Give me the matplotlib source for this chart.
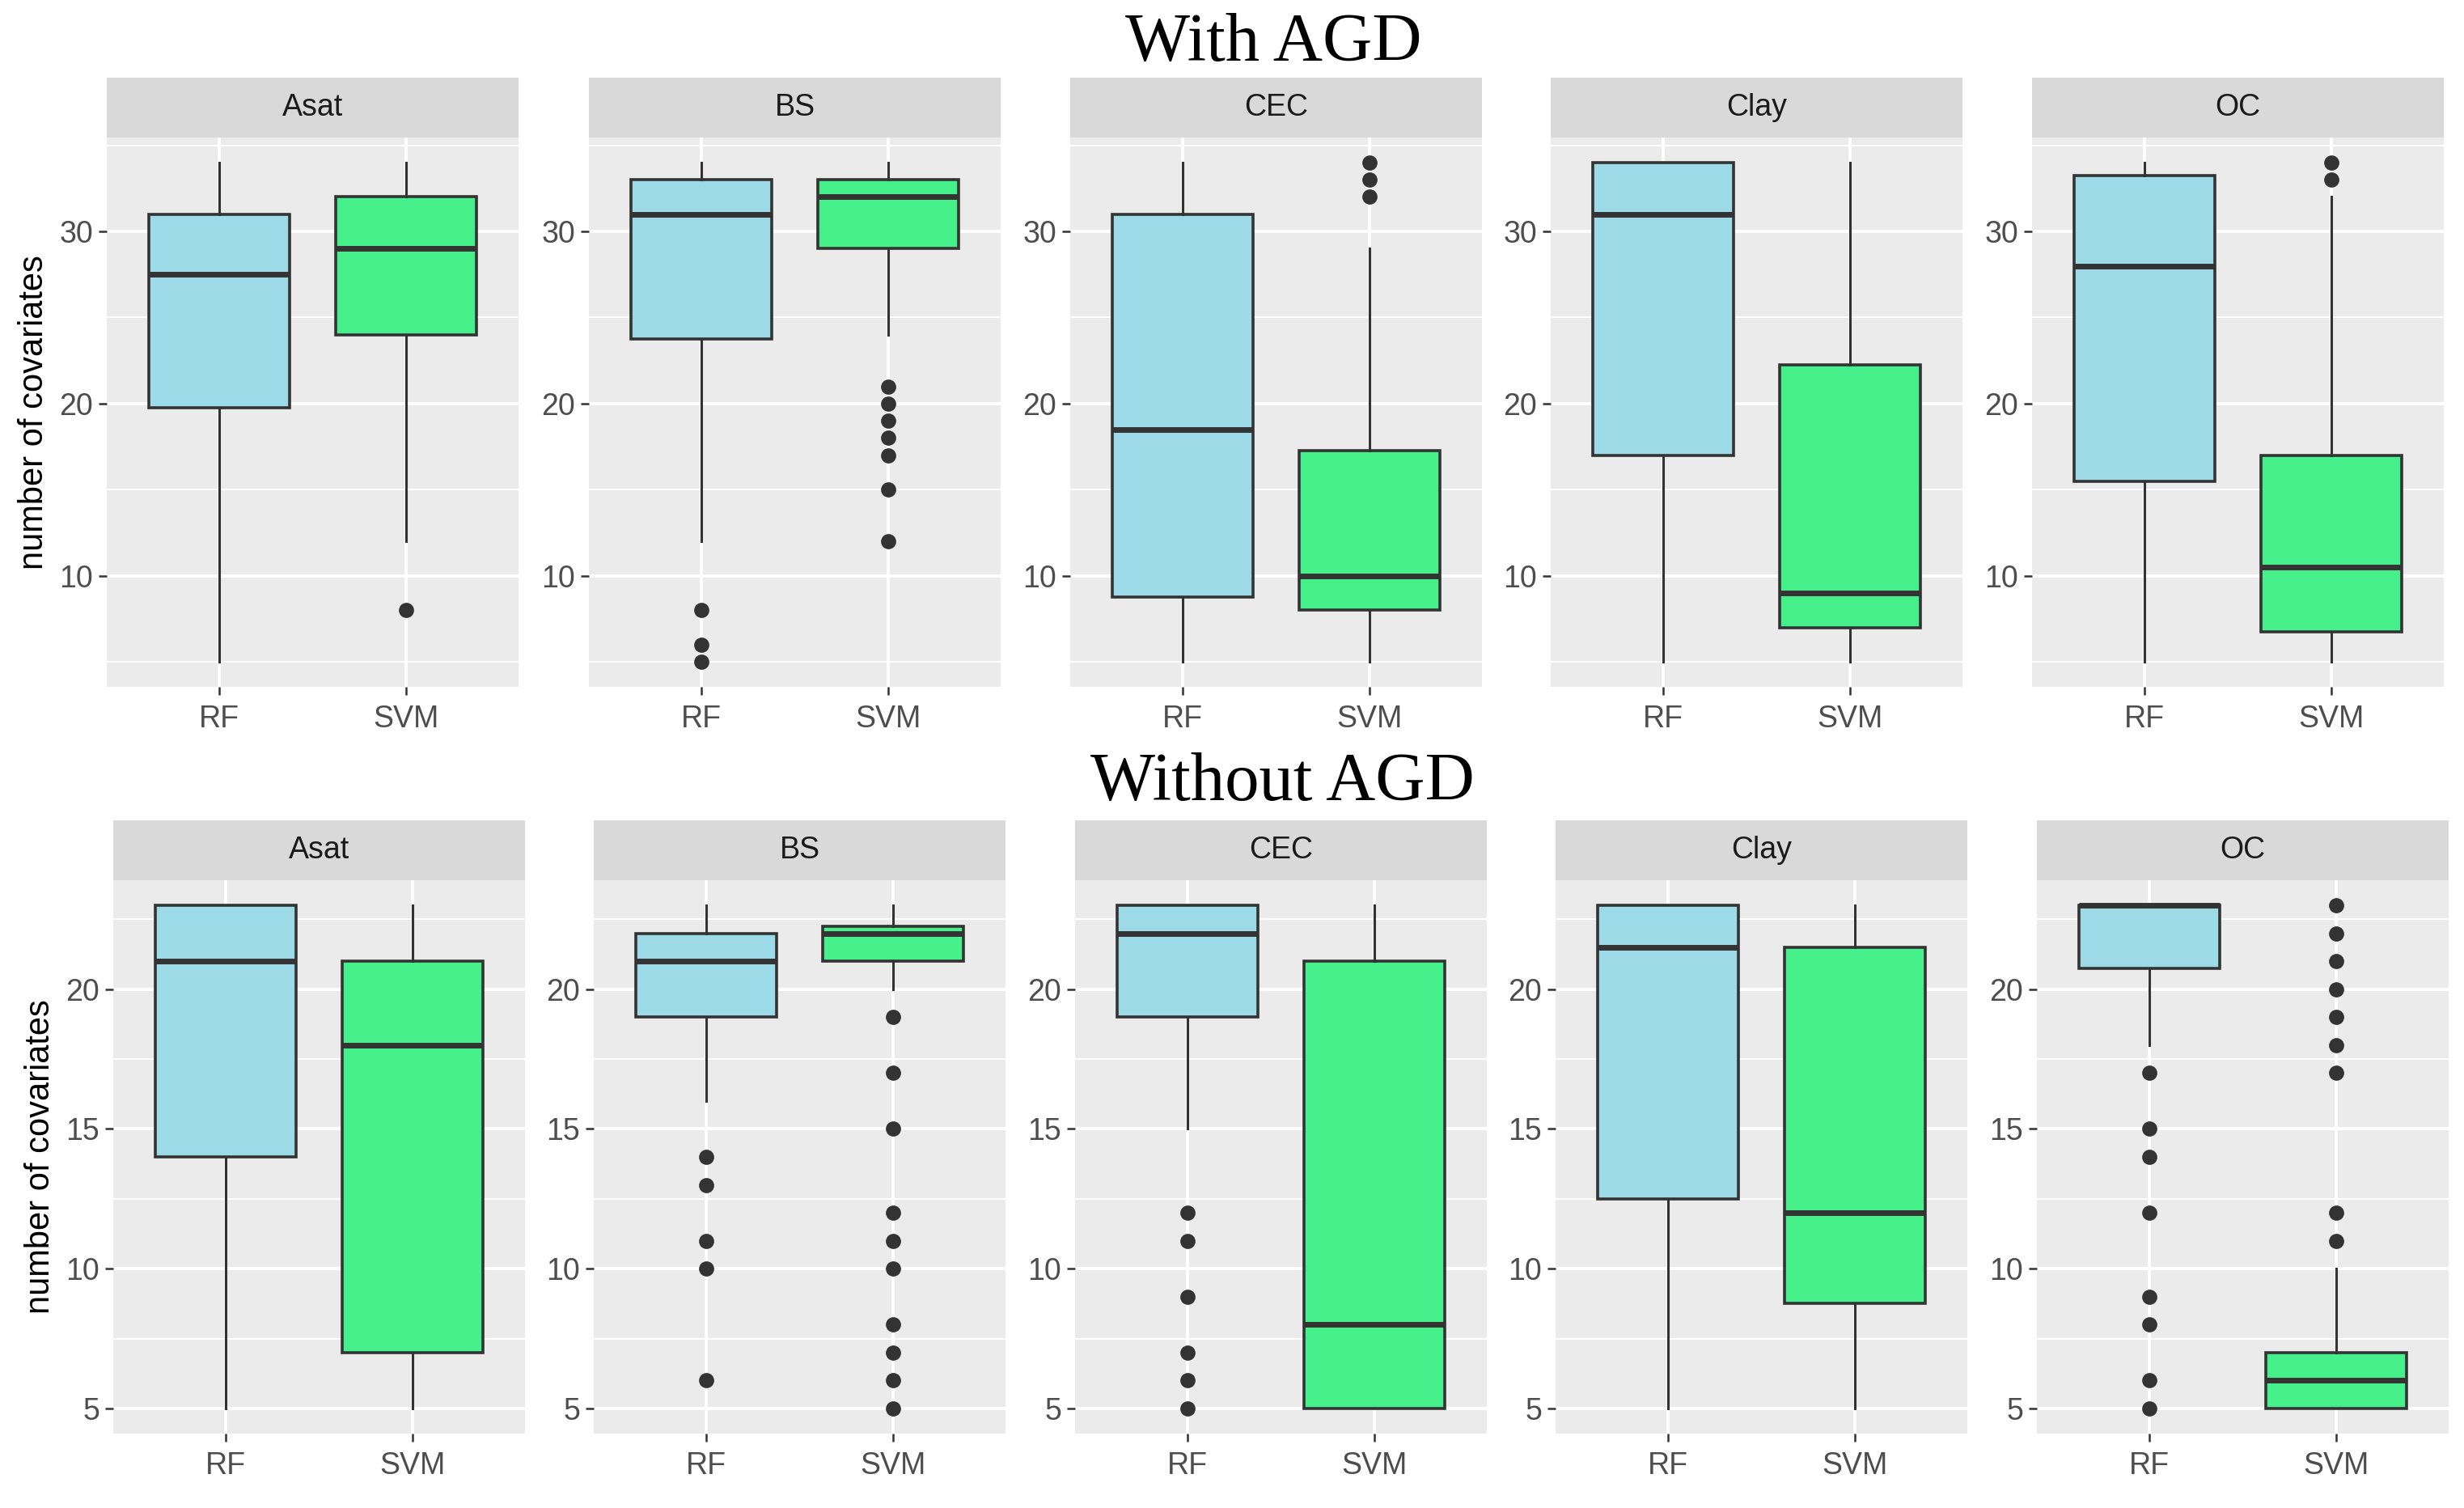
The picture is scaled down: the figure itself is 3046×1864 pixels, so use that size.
import matplotlib
matplotlib.use('Agg')
import matplotlib.pyplot as plt
from matplotlib.ticker import FixedLocator

plt.rcParams['font.family'] = ['Liberation Sans', 'DejaVu Sans']

props = ['Asat', 'BS', 'CEC', 'Clay', 'OC']
models = ['RF', 'SVM']

# box stats per soil property: (whisker low, Q1, median, Q3, whisker high)
with_rf = [(5, 19.75, 27.5, 31, 34), (12, 23.75, 31, 33, 34), (5, 8.75, 18.5, 31, 34),
           (5, 17, 31, 34, 34), (5, 15.5, 28, 33.25, 34)]
with_rf_out = [[], [8, 6, 5], [], [], []]
with_svm = [(12, 24, 29, 32, 34), (24, 29, 32, 33, 34), (5, 8, 10, 17.25, 29),
            (5, 7, 9, 22.25, 34), (5, 6.75, 10.5, 17, 32)]
with_svm_out = [[8], [21, 20, 19, 18, 17, 15, 12], [32, 33, 34], [], [33, 34]]

without_rf = [(5, 14, 21, 23, 23), (16, 19, 21, 22, 23), (15, 19, 22, 23, 23),
              (5, 12.5, 21.5, 23, 23), (18, 20.75, 23, 23, 23)]
without_rf_out = [[], [14, 13, 11, 10, 6], [12, 11, 9, 7, 6, 5], [], [17, 15, 14, 12, 9, 8, 6, 5]]
without_svm = [(5, 7, 18, 21, 23), (20, 21, 22, 22.25, 23), (5, 5, 8, 21, 23),
               (5, 8.75, 12, 21.5, 23), (5, 5, 6, 7, 10)]
without_svm_out = [[], [19, 17, 15, 12, 11, 10, 8, 7, 6, 5], [], [], [11, 12, 17, 18, 19, 20, 21, 22, 23]]

W, H = 3046, 1864
fig = plt.figure(figsize=(W / 100, H / 100), dpi=100)

fills = ['#9BDAE6', '#45F08A']
dark = '#333333'


def mkstat(s, out):
    lo, q1, med, q3, hi = s
    return dict(whislo=lo, q1=q1, med=med, q3=q3, whishi=hi, fliers=out)


def panel(left, top, bottom, strip_top, rf, rfo, svm, svmo, name, ylim, major, minor, ylab):
    w = 509
    ax = fig.add_axes([left / W, 1 - bottom / H, w / W, (bottom - top) / H])
    ax.set_facecolor('#EBEBEB')
    for sp in ax.spines.values():
        sp.set_visible(False)
    stats = [mkstat(rf, rfo), mkstat(svm, svmo)]
    bp = ax.bxp(stats, positions=[1, 2], widths=0.75, patch_artist=True, showcaps=False,
                boxprops=dict(edgecolor=dark, linewidth=2.6),
                medianprops=dict(color=dark, linewidth=5, solid_capstyle='butt'),
                whiskerprops=dict(color=dark, linewidth=2.2),
                flierprops=dict(marker='o', markerfacecolor=dark, markeredgecolor='none',
                                markersize=13.5))
    for p, c in zip(bp['boxes'], fills):
        p.set_facecolor(c)
    ax.set_xlim(0.4, 2.6)
    ax.set_ylim(*ylim)
    ax.set_xticks([1, 2])
    ax.set_xticklabels(models)
    ax.set_yticks(major)
    ax.yaxis.set_minor_locator(FixedLocator(minor))
    ax.grid(which='major', color='white', linewidth=2.8)
    ax.grid(which='minor', axis='y', color='white', linewidth=1.4)
    ax.set_axisbelow(True)
    ax.tick_params(which='major', length=7, width=1.8, color=dark, labelcolor='#4D4D4D',
                   labelsize=27, pad=5)
    ax.tick_params(axis='x', pad=9)
    ax.tick_params(which='minor', length=0)
    if ylab:
        ax.set_ylabel('number of covariates', fontsize=30, color='black', labelpad=8)
    st = fig.add_axes([left / W, 1 - top / H, w / W, (top - strip_top) / H])
    st.set_facecolor('#D9D9D9')
    st.set_xticks([])
    st.set_yticks([])
    for sp in st.spines.values():
        sp.set_visible(False)
    st.text(0.5, 0.5, name, ha='center', va='center', fontsize=27, color='#1A1A1A',
            transform=st.transAxes)


top_lefts = [132, 728, 1323, 1917, 2512]
bot_lefts = [140, 734, 1329, 1923, 2518]

for i, p in enumerate(props):
    panel(top_lefts[i], 170, 849, 96, with_rf[i], with_rf_out[i], with_svm[i], with_svm_out[i],
          p, (3.55, 35.45), [10, 20, 30], [5, 15, 25, 35], i == 0)
    panel(bot_lefts[i], 1088, 1772, 1014, without_rf[i], without_rf_out[i], without_svm[i],
          without_svm_out[i], p, (4.1, 23.9), [5, 10, 15, 20], [7.5, 12.5, 17.5, 22.5], i == 0)

fig.text(1574 / W, 1 - 55 / H, 'With AGD', ha='center', va='center', fontsize=61,
         family='Liberation Serif')
fig.text(1585 / W, 1 - 969 / H, 'Without AGD', ha='center', va='center', fontsize=61,
         family='Liberation Serif')

fig.savefig('out.png', dpi=100)
